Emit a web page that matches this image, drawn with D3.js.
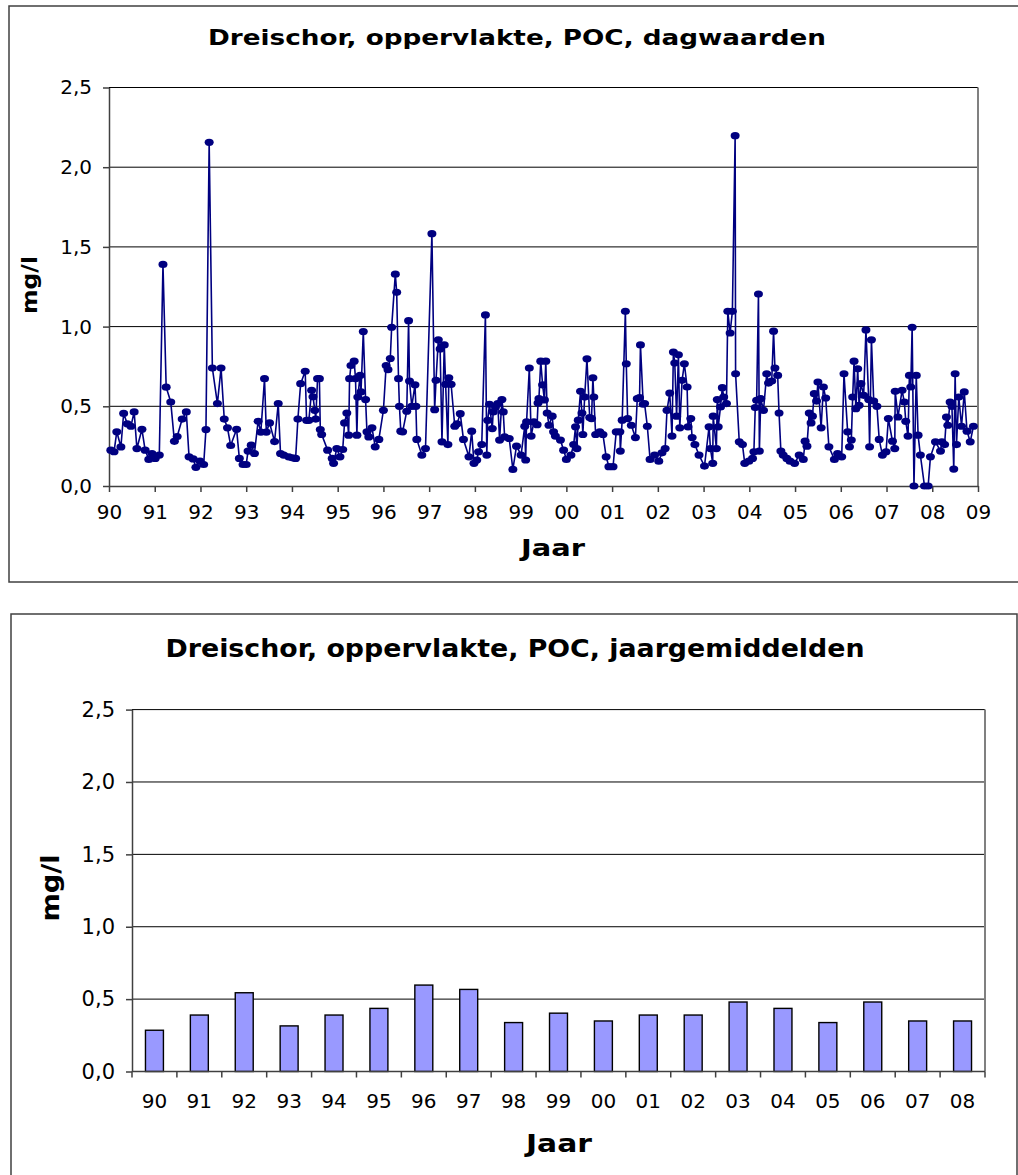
<!DOCTYPE html>
<html lang="nl">
<head>
<meta charset="utf-8">
<script src="https://d3js.org/d3.v7.min.js"></script>
<style>
  body { margin: 0; background: #fff; }
  svg text { font-family: Verdana, "DejaVu Sans", sans-serif; fill: #000; }
</style>
</head>
<body>
<svg id="chart" width="1018" height="1175"></svg>
<script>
// dagwaarden: meetmoment (decimaal jaar) en POC (mg/l)
const dagJaar = [
  1990.04, 1990.11, 1990.17, 1990.26, 1990.32, 1990.40, 1990.48, 1990.55, 1990.61, 1990.72, 1990.79, 1990.87, 1990.94,
  1991.01, 1991.10, 1991.18, 1991.25, 1991.35, 1991.43, 1991.49, 1991.60, 1991.69, 1991.75, 1991.84, 1991.90, 1991.99,
  1992.07, 1992.12, 1992.19, 1992.26, 1992.37, 1992.45, 1992.52, 1992.59, 1992.66, 1992.79, 1992.85, 1992.93,
  1993.00, 1993.04, 1993.11, 1993.18, 1993.26, 1993.32, 1993.40, 1993.44, 1993.51, 1993.62, 1993.70, 1993.75, 1993.82, 1993.93,
  1994.01, 1994.08, 1994.13, 1994.19, 1994.29, 1994.32, 1994.37, 1994.43, 1994.46, 1994.50, 1994.52, 1994.56, 1994.60, 1994.62, 1994.65, 1994.78, 1994.88, 1994.91, 1994.98,
  1995.05, 1995.11, 1995.15, 1995.20, 1995.24, 1995.26, 1995.29, 1995.36, 1995.39, 1995.42, 1995.44, 1995.49, 1995.51, 1995.56, 1995.61, 1995.64, 1995.68, 1995.75, 1995.82, 1995.90,
  1996.00, 1996.06, 1996.10, 1996.15, 1996.18, 1996.26, 1996.29, 1996.33, 1996.35, 1996.38, 1996.42, 1996.51, 1996.55, 1996.57, 1996.62, 1996.69, 1996.71, 1996.73, 1996.84, 1996.92,
  1997.06, 1997.12, 1997.15, 1997.20, 1997.24, 1997.28, 1997.33, 1997.36, 1997.41, 1997.43, 1997.48, 1997.56, 1997.61, 1997.68, 1997.75, 1997.87, 1997.93, 1997.98,
  1998.04, 1998.08, 1998.15, 1998.23, 1998.26, 1998.28, 1998.32, 1998.38, 1998.40, 1998.45, 1998.50, 1998.54, 1998.59, 1998.62, 1998.65, 1998.75, 1998.83, 1998.91,
  1999.01, 1999.09, 1999.11, 1999.13, 1999.19, 1999.23, 1999.29, 1999.36, 1999.38, 1999.40, 1999.44, 1999.48, 1999.52, 1999.55, 1999.58, 1999.62, 1999.69, 1999.72, 1999.76, 1999.87, 1999.94,
  2000.00, 2000.10, 2000.16, 2000.20, 2000.23, 2000.26, 2000.31, 2000.34, 2000.36, 2000.40, 2000.45, 2000.51, 2000.55, 2000.58, 2000.60, 2000.64, 2000.73, 2000.80, 2000.87, 2000.93,
  2001.02, 2001.09, 2001.17, 2001.18, 2001.22, 2001.29, 2001.31, 2001.34, 2001.42, 2001.51, 2001.55, 2001.60, 2001.62, 2001.68, 2001.71, 2001.77, 2001.83, 2001.93,
  2002.02, 2002.09, 2002.16, 2002.20, 2002.26, 2002.31, 2002.34, 2002.37, 2002.41, 2002.45, 2002.48, 2002.53, 2002.58, 2002.64, 2002.66, 2002.72, 2002.75, 2002.81, 2002.90,
  2003.02, 2003.12, 2003.15, 2003.20, 2003.21, 2003.28, 2003.30, 2003.32, 2003.37, 2003.41, 2003.44, 2003.50, 2003.53, 2003.58, 2003.63, 2003.69, 2003.70, 2003.78, 2003.85, 2003.90, 2003.99,
  2004.07, 2004.10, 2004.13, 2004.16, 2004.20, 2004.22, 2004.25, 2004.31, 2004.38, 2004.42, 2004.49, 2004.53, 2004.56, 2004.62, 2004.65, 2004.69, 2004.74, 2004.82, 2004.89, 2004.99,
  2005.09, 2005.18, 2005.22, 2005.26, 2005.31, 2005.35, 2005.38, 2005.42, 2005.47, 2005.50, 2005.57, 2005.62, 2005.67, 2005.74, 2005.86, 2005.93,
  2006.02, 2006.07, 2006.15, 2006.19, 2006.23, 2006.26, 2006.29, 2006.33, 2006.37, 2006.40, 2006.44, 2006.50, 2006.55, 2006.61, 2006.63, 2006.67, 2006.72, 2006.79, 2006.84, 2006.91, 2006.99,
  2007.04, 2007.13, 2007.18, 2007.19, 2007.25, 2007.34, 2007.39, 2007.42, 2007.47, 2007.50, 2007.53, 2007.56, 2007.60, 2007.65, 2007.69, 2007.74, 2007.83, 2007.91, 2007.96,
  2008.07, 2008.18, 2008.21, 2008.27, 2008.31, 2008.34, 2008.39, 2008.43, 2008.47, 2008.50, 2008.53, 2008.58, 2008.64, 2008.70, 2008.76, 2008.83, 2008.90
];
const dagPOC = [
  0.225, 0.215, 0.34, 0.245, 0.455, 0.39, 0.375, 0.465, 0.235, 0.356, 0.225, 0.167, 0.204,
  0.173, 0.194, 1.39, 0.62, 0.527, 0.28, 0.31, 0.42, 0.465, 0.183, 0.17, 0.117, 0.156,
  0.135, 0.354, 2.156, 0.74, 0.517, 0.74, 0.42, 0.365, 0.254, 0.356, 0.173, 0.135,
  0.135, 0.219, 0.256, 0.204, 0.406, 0.338, 0.673, 0.338, 0.396, 0.279, 0.517, 0.204, 0.194, 0.183,
  0.177, 0.173, 0.42, 0.642, 0.72, 0.412, 0.412, 0.6, 0.56, 0.475, 0.42, 0.673, 0.673, 0.354, 0.323, 0.225, 0.173, 0.142, 0.235,
  0.183, 0.229, 0.396, 0.458, 0.319, 0.673, 0.756, 0.783, 0.673, 0.319, 0.558, 0.694, 0.59, 0.969, 0.542, 0.34, 0.308, 0.365, 0.246, 0.292,
  0.475, 0.756, 0.73, 0.8, 0.996, 1.329, 1.215, 0.673, 0.5, 0.344, 0.34, 0.469, 1.037, 0.658, 0.5, 0.635, 0.5, 0.292, 0.194, 0.235,
  1.583, 0.479, 0.663, 0.917, 0.86, 0.277, 0.885, 0.638, 0.26, 0.679, 0.638, 0.375, 0.39, 0.454, 0.292, 0.183, 0.344, 0.142,
  0.163, 0.215, 0.26, 1.073, 0.194, 0.412, 0.513, 0.36, 0.465, 0.496, 0.517, 0.288, 0.542, 0.465, 0.308, 0.298, 0.104, 0.25,
  0.194, 0.375, 0.163, 0.402, 0.74, 0.313, 0.402, 0.385, 0.52, 0.548, 0.783, 0.635, 0.54, 0.783, 0.458, 0.381, 0.438, 0.34, 0.313, 0.288, 0.225,
  0.167, 0.194, 0.26, 0.371, 0.235, 0.413, 0.594, 0.458, 0.323, 0.558, 0.798, 0.429, 0.423, 0.679, 0.558, 0.323, 0.34, 0.323, 0.183, 0.121,
  0.121, 0.34, 0.34, 0.219, 0.413, 1.096, 0.767, 0.423, 0.381, 0.304, 0.548, 0.554, 0.885, 0.513, 0.517, 0.375, 0.167, 0.194,
  0.156, 0.208, 0.235, 0.475, 0.583, 0.313, 0.84, 0.771, 0.438, 0.823, 0.365, 0.663, 0.767, 0.621, 0.371, 0.423, 0.304, 0.26, 0.194,
  0.125, 0.371, 0.235, 0.142, 0.438, 0.235, 0.542, 0.371, 0.496, 0.617, 0.558, 0.517, 1.096, 0.96, 1.096, 2.198, 0.704, 0.277, 0.26, 0.142, 0.156,
  0.173, 0.215, 0.492, 0.538, 1.204, 0.219, 0.548, 0.475, 0.704, 0.646, 0.658, 0.971, 0.74, 0.694, 0.458, 0.219, 0.194, 0.173, 0.156, 0.142,
  0.194, 0.167, 0.281, 0.25, 0.458, 0.396, 0.438, 0.579, 0.533, 0.652, 0.365, 0.621, 0.552, 0.246, 0.167, 0.204,
  0.183, 0.704, 0.34, 0.246, 0.288, 0.558, 0.783, 0.485, 0.735, 0.506, 0.642, 0.569, 0.979, 0.542, 0.246, 0.917, 0.533, 0.5, 0.292, 0.194, 0.215,
  0.423, 0.281, 0.235, 0.594, 0.433, 0.6, 0.527, 0.406, 0.313, 0.694, 0.621, 0.996, 0, 0.694, 0.319, 0.194, 0, 0, 0.183,
  0.277, 0.219, 0.277, 0.26, 0.433, 0.381, 0.527, 0.5, 0.106, 0.704, 0.26, 0.558, 0.375, 0.59, 0.344, 0.277, 0.375
];

// jaargemiddelden
const jaren = ["90", "91", "92", "93", "94", "95", "96", "97", "98", "99", "00", "01", "02", "03", "04", "05", "06", "07", "08"];
const jaarPOC = [0.285, 0.39, 0.544, 0.315, 0.39, 0.436, 0.597, 0.567, 0.338, 0.403, 0.349, 0.39, 0.39, 0.48, 0.436, 0.338, 0.48, 0.349, 0.349];

// tick labels
const yTicks = [0, 0.5, 1.0, 1.5, 2.0, 2.5];
const xTickJaren = [1990, 1991, 1992, 1993, 1994, 1995, 1996, 1997, 1998, 1999, 2000, 2001, 2002, 2003, 2004, 2005, 2006, 2007, 2008, 2009];

const svg = d3.select("#chart");
const fmtY = d => d3.format(".1f")(d).replace(".", ",");
const fmtJaar = d => String(d % 100).padStart(2, "0");

function styleAxis(g, size) {
    g.attr("font-family", null).attr("font-size", size);
    g.select(".domain").attr("stroke", "#404040").attr("stroke-width", 1.5);
    g.selectAll(".tick line").attr("stroke", "#404040").attr("stroke-width", 1.5);
    g.selectAll(".tick text").attr("fill", "#000");
}

// bold label, sized by height, stretched to the measured width (Verdana is wider than DejaVu)
function label(g, txt, size, len) {
    return g.append("text")
        .attr("text-anchor", "middle")
        .attr("font-size", size).attr("font-weight", "bold")
        .attr("textLength", len).attr("lengthAdjust", "spacingAndGlyphs")
        .text(txt);
}

// ---------- bovenste grafiek: dagwaarden ----------
svg.append("rect")
    .attr("x", 9).attr("y", 6).attr("width", 1040).attr("height", 576)
    .attr("fill", "none").attr("stroke", "#404040").attr("stroke-width", 1.5);

const x1 = d3.scaleLinear().domain([1990, 2009]).range([109, 978]);
const y1 = d3.scaleLinear().domain([0, 2.5]).range([486, 87.5]);

const gTop = svg.append("g");

gTop.selectAll(".grid")
    .data(yTicks.slice(1))
    .join("line")
    .attr("class", "grid")
    .attr("x1", x1.range()[0]).attr("x2", x1.range()[1])
    .attr("y1", d => y1(d)).attr("y2", d => y1(d))
    .attr("stroke", "#000").attr("stroke-width", 1);

gTop.append("line")
    .attr("x1", x1.range()[1]).attr("x2", x1.range()[1])
    .attr("y1", y1(2.5)).attr("y2", y1(0))
    .attr("stroke", "#808080").attr("stroke-width", 2);

gTop.append("g")
    .attr("transform", `translate(0,${y1(0)})`)
    .call(d3.axisBottom(x1).tickValues(xTickJaren).tickFormat(fmtJaar)
        .tickSize(6).tickSizeOuter(0).tickPadding(13))
    .call(g => styleAxis(g, 20));

gTop.append("g")
    .attr("transform", `translate(${x1(1990)},0)`)
    .call(d3.axisLeft(y1).tickValues(yTicks).tickFormat(fmtY)
        .tickSize(6).tickSizeOuter(0).tickPadding(11))
    .call(g => styleAxis(g, 20));

const idx = d3.range(dagJaar.length);

gTop.append("path")
    .datum(idx)
    .attr("fill", "none")
    .attr("stroke", "#000080")
    .attr("stroke-width", 1.6)
    .attr("d", d3.line().x(i => x1(dagJaar[i])).y(i => y1(dagPOC[i])));

gTop.selectAll(".pt")
    .data(idx)
    .join("ellipse")
    .attr("class", "pt")
    .attr("cx", i => x1(dagJaar[i]))
    .attr("cy", i => y1(dagPOC[i]))
    .attr("rx", 4.5).attr("ry", 3.6)
    .attr("fill", "#000080");

label(gTop, "Dreischor, oppervlakte, POC, dagwaarden", 21, 618)
    .attr("x", 517).attr("y", 45);
label(gTop, "mg/l", 22, 58)
    .attr("transform", "translate(37,285) rotate(-90)");
label(gTop, "Jaar", 23, 64)
    .attr("x", 553).attr("y", 556);

// ---------- onderste grafiek: jaargemiddelden ----------
svg.append("rect")
    .attr("x", 11).attr("y", 614).attr("width", 1006).attr("height", 600)
    .attr("fill", "none").attr("stroke", "#404040").attr("stroke-width", 1.5);

const x2 = d3.scaleBand().domain(jaren).range([132, 985]).paddingInner(0.6).paddingOuter(0.3);
const y2 = d3.scaleLinear().domain([0, 2.5]).range([1071.5, 709.6]);

const gBot = svg.append("g");

gBot.selectAll(".grid")
    .data(yTicks.slice(1))
    .join("line")
    .attr("class", "grid")
    .attr("x1", x2.range()[0]).attr("x2", x2.range()[1])
    .attr("y1", d => y2(d)).attr("y2", d => y2(d))
    .attr("stroke", "#000").attr("stroke-width", 1);

gBot.append("line")
    .attr("x1", x2.range()[1]).attr("x2", x2.range()[1])
    .attr("y1", y2(2.5)).attr("y2", y2(0))
    .attr("stroke", "#808080").attr("stroke-width", 2);

gBot.selectAll(".bar")
    .data(jaren)
    .join("rect")
    .attr("class", "bar")
    .attr("x", d => x2(d))
    .attr("width", x2.bandwidth())
    .attr("y", (d, i) => y2(jaarPOC[i]))
    .attr("height", (d, i) => y2(0) - y2(jaarPOC[i]))
    .attr("fill", "#9999FF")
    .attr("stroke", "#000")
    .attr("stroke-width", 1.4);

// category axis: labels centred, tick marks between categories
const xAxis2 = gBot.append("g")
    .attr("transform", `translate(0,${y2(0)})`)
    .call(d3.axisBottom(x2).tickSize(0).tickPadding(22))
    .call(g => styleAxis(g, 20));
xAxis2.select(".domain").attr("d", `M${x2.range()[0]},0H${x2.range()[1]}`);

const grens = jaren.map(d => x2(d) - x2.step() * x2.paddingOuter()).concat([x2.range()[1]]);
xAxis2.selectAll(".sep")
    .data(grens)
    .join("line")
    .attr("class", "sep")
    .attr("x1", d => d).attr("x2", d => d)
    .attr("y1", 0).attr("y2", 6)
    .attr("stroke", "#404040").attr("stroke-width", 1.5);

gBot.append("g")
    .attr("transform", `translate(${x2.range()[0]},0)`)
    .call(d3.axisLeft(y2).tickValues(yTicks).tickFormat(fmtY)
        .tickSize(6).tickSizeOuter(0).tickPadding(11))
    .call(g => styleAxis(g, 21));

label(gBot, "Dreischor, oppervlakte, POC, jaargemiddelden", 24, 699)
    .attr("x", 515).attr("y", 657);
label(gBot, "mg/l", 25, 67)
    .attr("transform", "translate(59,888) rotate(-90)");
label(gBot, "Jaar", 25, 66)
    .attr("x", 559).attr("y", 1152);
</script>
</body>
</html>
